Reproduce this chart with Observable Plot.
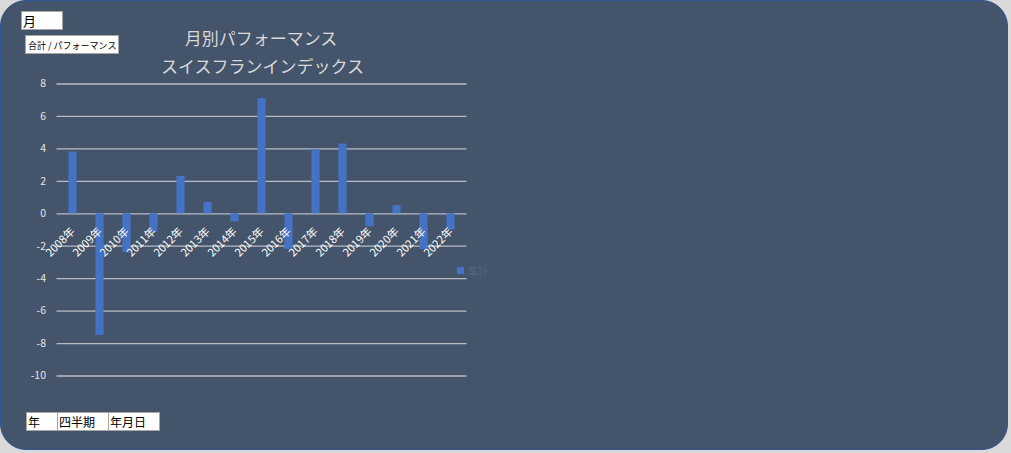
<!DOCTYPE html>
<html><head><meta charset="utf-8">
<script src="https://cdn.jsdelivr.net/npm/d3@7"></script>
<script src="https://cdn.jsdelivr.net/npm/@observablehq/plot@0.6"></script>
<style>
html,body{margin:0;padding:0;background:#d9d9d9;width:1011px;height:453px;overflow:hidden;font-family:"Noto Sans CJK JP","Noto Sans",sans-serif;}
#panel{position:absolute;left:0;top:0;width:1006px;height:448px;background:#44546a;border:1.5px solid #2f5597;border-radius:26px;overflow:hidden;}
#chart{position:absolute;left:0;top:0;}
.box{position:absolute;background:#fff;border:1px solid #a6a6a6;color:#000;box-sizing:border-box;white-space:nowrap;line-height:1;}
.title{position:absolute;left:160px;width:200px;text-align:center;color:#d9d9d9;font-size:17px;white-space:nowrap;}
</style></head>
<body>
<div id="panel">
  <div id="chart"></div>
  <div class="title" style="top:24px;">月別パフォーマンス</div>
  <div class="title" style="top:52px;">スイスフランインデックス</div>
  <div class="box" style="left:20px;top:10px;width:42px;height:19px;font-size:13px;padding:2px 0 0 1px;">月</div>
  <div class="box" style="left:24px;top:34px;width:94px;height:19px;font-size:9px;padding:5px 0 0 2px;">合計 / パフォーマンス</div>
  <div class="box" style="left:25px;top:411px;width:32px;height:19px;font-size:12px;padding:3px 0 0 1px;">年</div>
  <div class="box" style="left:56px;top:411px;width:52px;height:19px;font-size:12px;padding:3px 0 0 1px;">四半期</div>
  <div class="box" style="left:107px;top:411px;width:52px;height:19px;font-size:12px;padding:3px 0 0 1px;">年月日</div>
</div>
<script>
const years = ["2008年","2009年","2010年","2011年","2012年","2013年","2014年","2015年","2016年","2017年","2018年","2019年","2020年","2021年","2022年"];
const values = [3.8,-7.5,-2.4,-1.15,2.3,0.7,-0.5,7.1,-2.2,3.95,4.3,-0.8,0.5,-2.2,-1.0];
const yTicks = [8,6,4,2,0,-2,-4,-6,-8,-10];
const legendLabel = ["集計"];

const data = years.map((y,i)=>({year:y, value:values[i]}));

const chart = Plot.plot({
  width: 500,
  height: 400,
  marginLeft: 55.5,
  marginRight: 34.5,
  marginTop: 82.5,
  marginBottom: 25.5,
  style: {background:"transparent", fontFamily:'"Noto Sans CJK JP","Noto Sans",sans-serif', fontSize:"10px", color:"#d9d9d9", overflow:"visible"},
  x: {domain: years, padding: 0, axis: null},
  y: {domain: [-10, 8], label: null},
  marks: [
    Plot.ruleY(yTicks, {stroke:"#b8bcc4", strokeWidth:1.3}),
    Plot.barY(data, {x:"year", y:"value", fill:"#4472c4", insetLeft:9.4, insetRight:9.4}),
    Plot.text(data, {x:"year", y:()=>0, text:"year", rotate:-45, textAnchor:"end", dx:0, dy:16, fill:"#ffffff", fontSize:11}),
    Plot.axisY(yTicks, {tickSize:0, tickPadding:11, fill:"#e6e6e6", fontSize:10.5, tickFormat: d => String(d), label: null})
  ]
});
document.getElementById("chart").appendChild(chart);

// legend
const lg = d3.select("#panel").append("div")
  .style("position","absolute").style("left","456px").style("top","262px")
  .style("display","flex").style("align-items","center").style("gap","4px");
lg.append("div").style("width","7px").style("height","7px").style("background","#4472c4");
lg.append("div").style("font-size","10px").style("color","#56657a").text(legendLabel[0]);
</script>
</body></html>
